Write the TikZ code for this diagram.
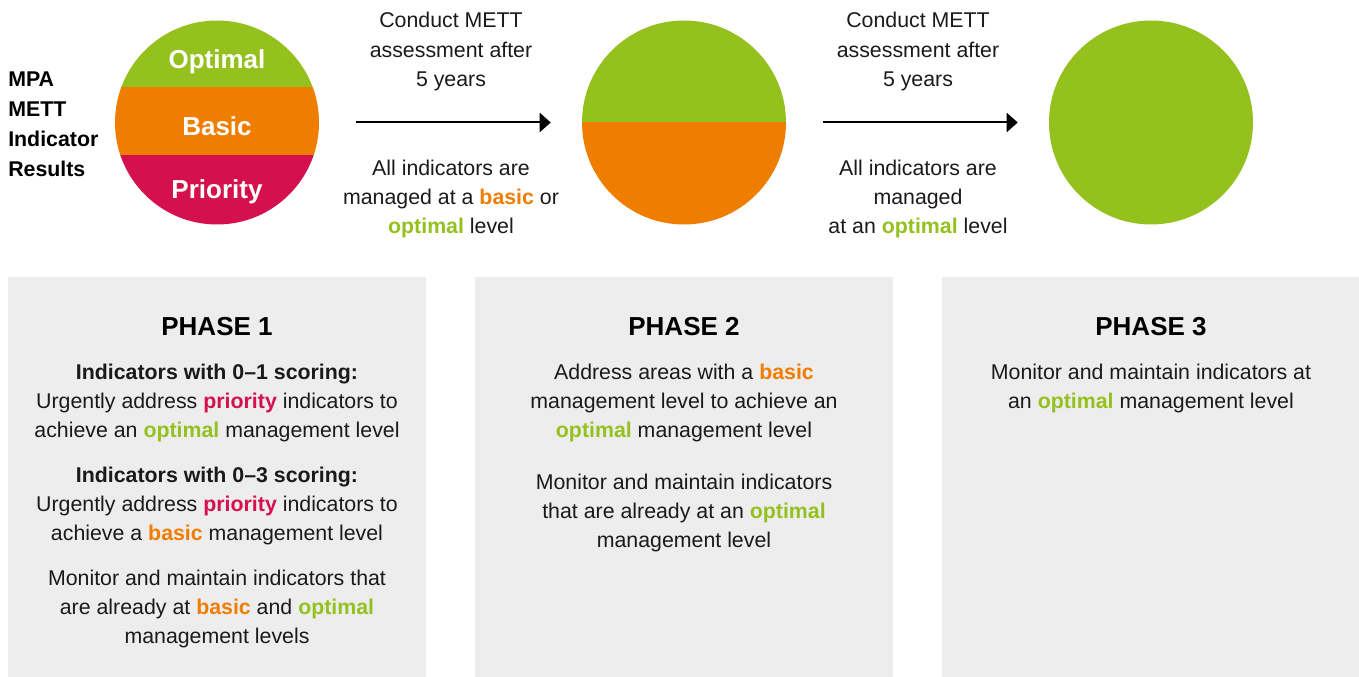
\documentclass[tikz,border=0pt]{standalone}
\usepackage{fontspec}
\setmainfont{Liberation Sans}
\usetikzlibrary{arrows.meta}
\definecolor{cgreen}{HTML}{95C11F}
\definecolor{corange}{HTML}{EF7D00}
\definecolor{cred}{HTML}{D5104E}
\definecolor{cgray}{HTML}{EDEDED}
\definecolor{ctext}{HTML}{1A1A1A}
\newcommand{\wbasic}{\textbf{\textcolor{corange}{basic}}}
\newcommand{\wopt}{\textbf{\textcolor{cgreen}{optimal}}}
\newcommand{\wprio}{\textbf{\textcolor{cred}{priority}}}
\begin{document}
\begin{tikzpicture}[x=0.75pt,y=-0.75pt,
  txt/.style={font=\fontsize{16}{22.1}\selectfont, text=ctext, align=center, inner sep=0pt},
  ttl/.style={font=\fontsize{19.5}{23}\selectfont\bfseries, text=black, inner sep=0pt},
  lbl/.style={font=\fontsize{19.5}{23}\selectfont\bfseries, text=white, inner sep=0pt},
  phasebox/.style={fill=cgray, draw=none, inner sep=0pt, anchor=north west, minimum height=300pt},
  ball/.style={circle, minimum size=153pt, inner sep=0pt, draw=none},
  flow/.style={line width=1.5pt, -{Triangle[length=8.25pt, width=14.25pt]}}
]
\useasboundingbox (0,0) rectangle (1359,677);

% phase boxes
\node[phasebox, minimum width=313.5pt] (b1) at (8,277) {};
\node[phasebox, minimum width=313.5pt] (b2) at (475,277) {};
\node[phasebox, minimum width=312.75pt] (b3) at (942,277) {};

% circles
\node[ball] (c1) at (217,122.5) {};
\begin{scope}
  \clip (217,122.5) circle[radius=76.5pt];
  \fill[cgreen] (110,15) rectangle (325,87.3);
  \fill[corange] (110,87.3) rectangle (325,155.3);
  \fill[cred] (110,155.3) rectangle (325,230);
\end{scope}
\node[ball] (c2) at (684,122.5) {};
\begin{scope}
  \clip (684,122.5) circle[radius=76.5pt];
  \fill[cgreen] (577,15) rectangle (792,122.5);
  \fill[corange] (577,122.5) rectangle (792,230);
\end{scope}
\node[ball, fill=cgreen] (c3) at (1151,122.5) {};

\node[lbl] (lopt) at (217,61.5) {Optimal};
\node[lbl] (lbas) at (217,126) {Basic};
\node[lbl] (lpri) at (217,191.5) {Priority};

% left label
\node[txt, align=left, anchor=west, font=\fontsize{16}{22.5}\selectfont\bfseries, text=black] (mpa) at (8,124.5) {MPA\\METT\\Indicator\\Results};

% arrows
\coordinate (a1s) at ([xshift=27.75pt]c1.east);
\coordinate (a1e) at ([xshift=-23.25pt]c2.west);
\coordinate (a2s) at ([xshift=27.75pt]c2.east);
\coordinate (a2e) at ([xshift=-23.25pt]c3.west);
\draw[flow] (a1s) -- (a1e);
\draw[flow] (a2s) -- (a2e);

\node[txt] (t1a) at (451,51.5) {Conduct METT\\assessment after\\5 years};
\node[txt] (t1b) at (451,199) {All indicators are\\managed at a \wbasic{} or\\\wopt{} level};
\node[txt] (t2a) at (918,51.5) {Conduct METT\\assessment after\\5 years};
\node[txt] (t2b) at (918,199) {All indicators are\\managed\\at an \wopt{} level};

% phase titles
\node[ttl] (p1) at (217,326.5) {PHASE 1};
\node[ttl] (p2) at (684,326.5) {PHASE 2};
\node[ttl] (p3) at (1151,326.5) {PHASE 3};

% phase 1 text
\node[txt] (p1a) at (217,403) {\textbf{Indicators with 0–1 scoring:}\\Urgently address \wprio{} indicators to\\achieve an \wopt{} management level};
\node[txt] (p1b) at (217,506) {\textbf{Indicators with 0–3 scoring:}\\Urgently address \wprio{} indicators to\\achieve a \wbasic{} management level};
\node[txt] (p1c) at (217,609) {Monitor and maintain indicators that\\are already at \wbasic{} and \wopt{}\\management levels};

% phase 2 text
\node[txt] (p2a) at (684,403) {Address areas with a \wbasic{}\\management level to achieve an\\\wopt{} management level};
\node[txt] (p2b) at (684,513) {Monitor and maintain indicators\\that are already at an \wopt{}\\management level};

% phase 3 text
\node[txt] (p3a) at (1151,388.5) {Monitor and maintain indicators at\\an \wopt{} management level};
\end{tikzpicture}
\end{document}
